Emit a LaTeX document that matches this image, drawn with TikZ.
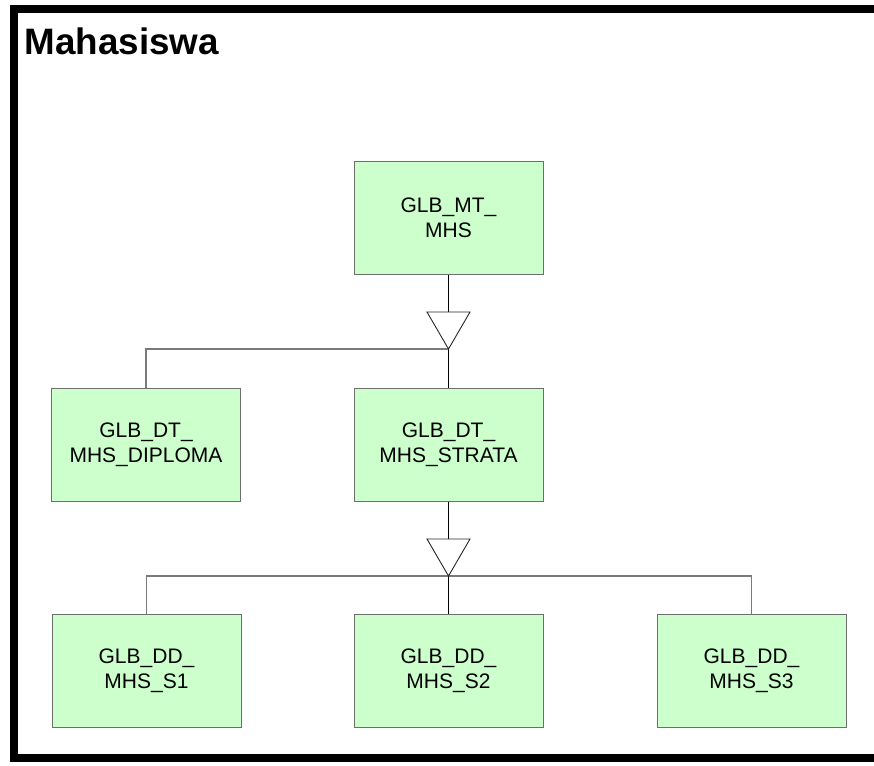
\documentclass[tikz,border=0pt]{standalone}
\usepackage{fontspec}
\setmainfont{Liberation Sans}
\definecolor{boxfill}{HTML}{CCFFCC}
\definecolor{boxline}{HTML}{6E6E6E}
\definecolor{busline}{HTML}{7A7A7A}
\begin{document}
\begin{tikzpicture}[x=1pt,y=-1pt,
  ent/.style={draw=boxline, fill=boxfill, line width=1pt, minimum width=189pt,
    minimum height=113pt, align=center, inner sep=0pt,
    font=\fontsize{21}{25}\selectfont},
  conn/.style={black, line width=0.8pt},
  bus/.style={busline, line width=1.2pt},
  tri/.style={black!85, line width=0.9pt, fill=white, line join=miter},
  frame/.style={black, line width=8pt, line join=miter}]
\useasboundingbox (0,0) rectangle (874,765);
% outer frame (right side beyond the picture)
\coordinate (f1) at (890,9.5);
\coordinate (f2) at (13.5,9.5);
\coordinate (f3) at (13.5,757.5);
\coordinate (f4) at (890,757.5);
\draw[frame] (f1) -- (f2) -- (f3) -- (f4);
\node[anchor=base west, inner sep=0pt, font=\fontsize{36.8}{40}\bfseries\selectfont] (title) at (24.5,54.5) {Mahasiswa};

% entities
\node[ent] (mt)  at (448.5,217.5) {GLB\_MT\_\\MHS};
\node[ent] (dip) at (146,444.5)   {GLB\_DT\_\\MHS\_DIPLOMA};
\node[ent] (str) at (448.5,444.5) {GLB\_DT\_\\MHS\_STRATA};
\node[ent] (s1)  at (146.5,671)   {GLB\_DD\_\\MHS\_S1};
\node[ent] (s2)  at (448.5,671)   {GLB\_DD\_\\MHS\_S2};
\node[ent] (s3)  at (751.5,671)   {GLB\_DD\_\\MHS\_S3};

% upper generalisation triangle
\coordinate (t1l) at (427,312);
\coordinate (t1t) at (448.5,312);
\coordinate (t1r) at (470,312);
\coordinate (t1c) at (448.5,349);
\draw[conn] (mt.south) -- (t1t);
\draw[bus] (dip.north) |- (t1c);
\draw[conn] (t1c) -- (str.north);
\draw[tri] (t1l) -- (t1r) -- (t1c) -- cycle;

% lower generalisation triangle
\coordinate (t2l) at (427,539);
\coordinate (t2t) at (448.5,539);
\coordinate (t2r) at (470,539);
\coordinate (t2c) at (448.5,576);
\draw[conn] (str.south) -- (t2t);
\draw[bus] (s1.north) |- (t2c) -| (s3.north);
\draw[conn] (t2c) -- (s2.north);
\draw[tri] (t2l) -- (t2r) -- (t2c) -- cycle;
\end{tikzpicture}
\end{document}
